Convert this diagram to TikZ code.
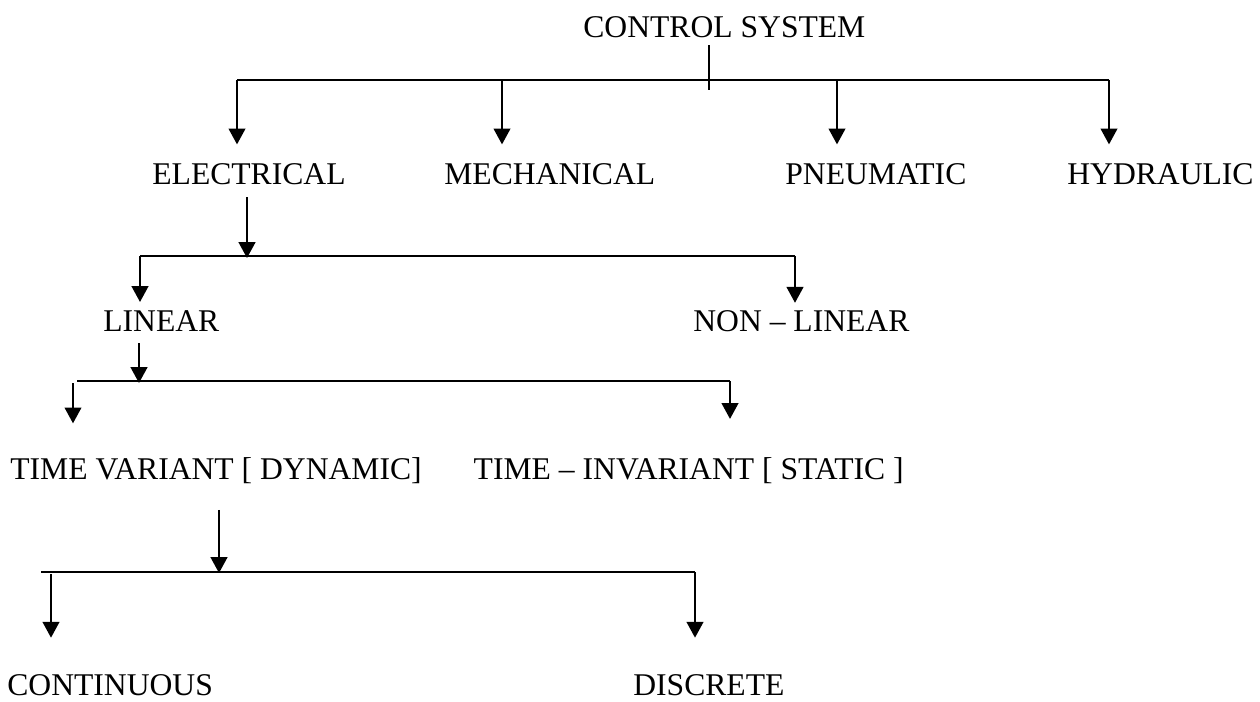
\documentclass[tikz,border=0pt]{standalone}
\usepackage{fontspec}
\setmainfont{Liberation Serif}
\usetikzlibrary{arrows.meta}
\tikzset{
  classnode/.style={font=\fontsize{18}{21}\selectfont, inner sep=0pt, anchor=base west},
  busline/.style={line width=0.75pt},
  tickline/.style={line width=0.6pt},
  droparrow/.style={-{Triangle[length=9pt,width=9.5pt]}, line width=1.1pt}
}

\begin{document}
\begin{tikzpicture}[x=0.02cm, y=-0.02cm]
  \useasboundingbox (0,0) rectangle (1260,702);
  % class names
  \node[classnode] (ctrl) at (583,38) {CONTROL SYSTEM};
  \node[classnode] (elec) at (152,185) {ELECTRICAL};
  \node[classnode] (mech) at (444,185) {MECHANICAL};
  \node[classnode] (pneu) at (785,185) {PNEUMATIC};
  \node[classnode] (hydr) at (1067,185) {HYDRAULIC};
  \node[classnode] (lin) at (103,332) {LINEAR};
  \node[classnode] (nonlin) at (693,332) {NON – LINEAR};
  \node[classnode] (tvar) at (10,479) {TIME VARIANT [ DYNAMIC]};
  \node[classnode, anchor=base east] (tinv) at (904,479) {TIME – INVARIANT [ STATIC ]};
  \node[classnode] (cont) at (7,695) {CONTINUOUS};
  \node[classnode] (disc) at (633,695) {DISCRETE};

  % first level
  \coordinate (hubA) at (709,90);
  \coordinate (busA-w) at (237,80);
  \coordinate (busA-e) at (1109,80);
  \coordinate (jA2) at (502,80);
  \coordinate (jA3) at (837,80);
  \draw[tickline, shorten <=3.8pt] (hubA |- ctrl.south) -- (hubA);
  \draw[busline] (busA-w) -- (busA-e);
  \draw[droparrow, shorten >=11pt] (busA-w) -- (busA-w |- elec.north);
  \draw[droparrow, shorten >=11pt] (jA2) -- (jA2 |- mech.north);
  \draw[droparrow, shorten >=11pt] (jA3) -- (jA3 |- pneu.north);
  \draw[droparrow, shorten >=11pt] (busA-e) -- (busA-e |- hydr.north);

  % electrical
  \coordinate (jB0) at (247,258);
  \coordinate (busB-w) at (140,256);
  \coordinate (busB-e) at (795,256);
  \draw[droparrow, shorten <=6.6pt] (jB0 |- elec.south) -- (jB0);
  \draw[busline] (busB-w) -- (busB-e);
  \draw[droparrow, shorten >=5pt] (busB-w) -- (busB-w |- lin.north);
  \draw[droparrow, shorten >=4.5pt] (busB-e) -- (busB-e |- nonlin.north);

  % linear
  \coordinate (jC0) at (139,383);
  \coordinate (busC-w) at (77,381);
  \coordinate (busC-e) at (730,381);
  \coordinate (jC1) at (73,383);
  \draw[droparrow, shorten <=6.2pt] (jC0 |- lin.south) -- (jC0);
  \draw[busline] (busC-w) -- (busC-e);
  \draw[droparrow, shorten >=19pt] (jC1) -- (jC1 |- tvar.north);
  \draw[droparrow, shorten >=21.5pt] (busC-e) -- (busC-e |- tinv.north);

  % time variant
  \coordinate (jD0) at (219,573);
  \coordinate (busD-w) at (41,572);
  \coordinate (busD-e) at (695,572);
  \coordinate (jD1) at (51,574);
  \draw[droparrow, shorten <=15pt] (jD0 |- tvar.south) -- (jD0);
  \draw[busline] (busD-w) -- (busD-e);
  \draw[droparrow, shorten >=20.5pt] (jD1) -- (jD1 |- cont.north);
  \draw[droparrow, shorten >=20.5pt] (busD-e) -- (busD-e |- disc.north);
\end{tikzpicture}
\end{document}
